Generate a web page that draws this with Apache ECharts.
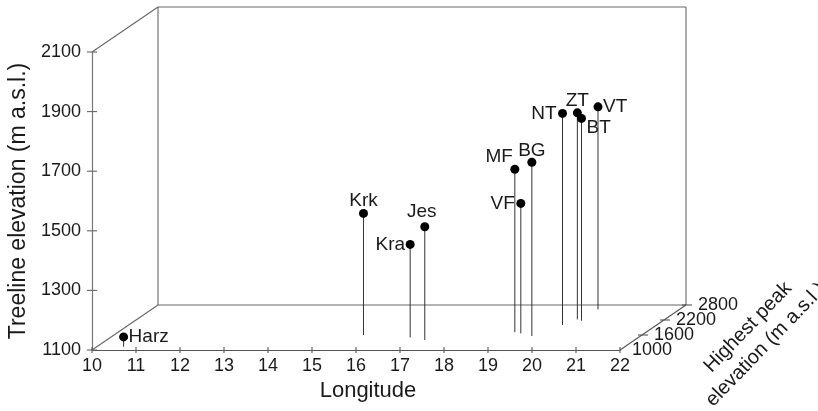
<!DOCTYPE html>
<html>
<head>
<meta charset="utf-8">
<script src="https://cdn.jsdelivr.net/npm/echarts@6/dist/echarts.min.js"></script>
<style>
html,body{margin:0;padding:0;background:#fff;}
#chart{width:818px;height:411px;}
</style>
</head>
<body>
<div id="chart"></div>
<script>
// ---- data ----
const names = ['Harz', 'Krk', 'Kra', 'Jes', 'MF', 'VF', 'BG', 'NT', 'ZT', 'BT', 'VT'];
const longitude = [10.61, 15.67, 16.81, 17.23, 19.02, 19.19, 19.53, 19.86, 20.01, 20.15, 20.15];
const treelineElevation = [1133, 1508, 1412, 1480, 1647, 1536, 1683, 1810, 1793, 1779, 1780];
const highestPeakElevation = [1130, 1600, 1505, 1400, 1708, 1667, 1560, 2000, 2225, 2170, 2620];

const lonTicks = [10, 11, 12, 13, 14, 15, 16, 17, 18, 19, 20, 21, 22];
const treelineTicks = [1100, 1300, 1500, 1700, 1900, 2100];
const depthTicks = [1000, 1600, 2200, 2800];

// ---- layout / style ----
const LON_MIN = 10, LON_MAX = 22;
const TL_MIN = 1100, TL_MAX = 2100;
const D_MIN = 1000, D_MAX = 2800;
const DEPTH_DX = 66, DEPTH_DY = -45;   // screen shift for the full depth range (oblique view)
const FONT = '"Liberation Sans", Arial, sans-serif';

const labelPlacement = {
  Harz: {dx: 5, dy: 0, align: 'left', va: 'middle'},
  Krk:  {dx: 0, dy: -3, align: 'center', va: 'bottom'},
  Kra:  {dx: -5, dy: 0, align: 'right', va: 'middle'},
  Jes:  {dx: -3, dy: -5, align: 'center', va: 'bottom'},
  MF:   {dx: -2, dy: -3, align: 'right', va: 'bottom'},
  VF:   {dx: -6, dy: 0, align: 'right', va: 'middle'},
  BG:   {dx: 0, dy: -2, align: 'center', va: 'bottom'},
  NT:   {dx: -6, dy: 0, align: 'right', va: 'middle'},
  ZT:   {dx: 0, dy: -3, align: 'center', va: 'bottom'},
  BT:   {dx: 5, dy: 0, align: 'left', va: 'top'},
  VT:   {dx: 5, dy: 0, align: 'left', va: 'middle'}
};

function depthOffset(d) {
  const f = (d - D_MIN) / (D_MAX - D_MIN);
  return [f * DEPTH_DX, f * DEPTH_DY];
}
function proj(api, lon, tl, d) {
  const c = api.coord([lon, tl]);
  const o = depthOffset(d);
  return [c[0] + o[0], c[1] + o[1]];
}
function seg(a, b, color, w) {
  return {type: 'line', shape: {x1: a[0], y1: a[1], x2: b[0], y2: b[1]},
          style: {stroke: color, lineWidth: w}};
}

const pointData = names.map((n, i) => [longitude[i], treelineElevation[i], highestPeakElevation[i], i]);

const chart = echarts.init(document.getElementById('chart'), null, {renderer: 'canvas'});

chart.setOption({
  animation: false,
  backgroundColor: '#fff',
  grid: {left: 92, top: 52, width: 528, height: 298, containLabel: false, outerBoundsMode: 'none'},
  xAxis: {
    type: 'value', min: LON_MIN, max: LON_MAX, interval: 1,
    axisLine: {lineStyle: {color: '#555', width: 1.2}},
    axisTick: {show: false},
    splitLine: {show: false},
    axisLabel: {fontSize: 18, color: '#1a1a1a', margin: 7, fontFamily: FONT,
                formatter: v => String(v)},
    name: 'Longitude', nameLocation: 'middle', nameGap: 30,
    nameTextStyle: {fontSize: 22, color: '#1a1a1a', fontFamily: FONT, padding: [0, 0, 0, 24]}
  },
  yAxis: {
    type: 'value', min: TL_MIN, max: TL_MAX, interval: 200,
    axisLine: {lineStyle: {color: '#777', width: 1.2}},
    axisTick: {show: false},
    splitLine: {show: false},
    axisLabel: {fontSize: 18, color: '#1a1a1a', margin: 11, fontFamily: FONT,
                formatter: v => String(v)},
    name: 'Treeline elevation (m a.s.l.)', nameLocation: 'middle', nameGap: 58,
    nameTextStyle: {fontSize: 23, color: '#1a1a1a', fontFamily: FONT}
  },
  graphic: [{
    type: 'text', x: 757, y: 336, rotation: 46 * Math.PI / 180, silent: true,
    style: {text: 'Highest peak\nelevation (m a.s.l.)', fontSize: 20, fontFamily: FONT,
            fill: '#1a1a1a', align: 'center', verticalAlign: 'middle', lineHeight: 25}
  }],
  series: [
    {
      type: 'custom', name: 'box', coordinateSystem: 'cartesian2d', clip: false, silent: true,
      data: [[LON_MIN, TL_MIN]],
      renderItem: function (params, api) {
        const ch = [];
        const boxC = '#666';
        ch.push(seg(proj(api, LON_MIN, TL_MIN, D_MIN), proj(api, LON_MIN, TL_MIN, D_MAX), boxC, 1.1));
        ch.push(seg(proj(api, LON_MIN, TL_MAX, D_MIN), proj(api, LON_MIN, TL_MAX, D_MAX), boxC, 1.1));
        ch.push(seg(proj(api, LON_MIN, TL_MIN, D_MAX), proj(api, LON_MIN, TL_MAX, D_MAX), boxC, 1.1));
        ch.push(seg(proj(api, LON_MIN, TL_MAX, D_MAX), proj(api, LON_MAX, TL_MAX, D_MAX), boxC, 1.1));
        ch.push(seg(proj(api, LON_MAX, TL_MAX, D_MAX), proj(api, LON_MAX, TL_MIN, D_MAX), boxC, 1.1));
        ch.push(seg(proj(api, LON_MIN, TL_MIN, D_MAX), proj(api, LON_MAX, TL_MIN, D_MAX), boxC, 1.1));
        ch.push(seg(proj(api, LON_MAX, TL_MIN, D_MIN), proj(api, LON_MAX, TL_MIN, D_MAX), '#555', 1.1));
        // longitude ticks (crossing the axis)
        lonTicks.forEach(v => {
          const p = api.coord([v, TL_MIN]);
          ch.push(seg([p[0], p[1] - 3], [p[0], p[1] + 3], '#555', 1.1));
        });
        // treeline ticks
        treelineTicks.forEach(v => {
          const p = api.coord([LON_MIN, v]);
          ch.push(seg([p[0] - 5, p[1]], [p[0] + 5, p[1]], '#666', 1.1));
        });
        // depth axis ticks and labels
        depthTicks.forEach((d, k) => {
          const p = proj(api, LON_MAX, TL_MIN, d);
          if (k > 0) ch.push(seg([p[0] - 4, p[1]], [p[0] + 6, p[1]], '#555', 1.1));
          ch.push({type: 'text', x: p[0] + 12, y: p[1], silent: true,
                   style: {text: String(d), fontSize: 18, fontFamily: FONT, fill: '#1a1a1a',
                           align: 'left', verticalAlign: 'middle'}});
        });
        return {type: 'group', children: ch};
      }
    },
    {
      type: 'custom', name: 'sites', coordinateSystem: 'cartesian2d', clip: false, silent: true,
      data: pointData,
      renderItem: function (params, api) {
        const lon = api.value(0), tl = api.value(1), d = api.value(2), i = api.value(3);
        const p = proj(api, lon, tl, d);
        const f = proj(api, lon, TL_MIN, d);
        const nm = names[i];
        const lp = labelPlacement[nm];
        return {
          type: 'group',
          children: [
            seg(p, f, '#333', 1),
            {type: 'circle', shape: {cx: p[0], cy: p[1], r: 4.5}, style: {fill: '#000'}},
            {type: 'text', x: p[0] + lp.dx, y: p[1] + lp.dy,
             style: {text: nm, fontSize: 19, fontFamily: FONT, fill: '#1a1a1a',
                     align: lp.align, verticalAlign: lp.va}}
          ]
        };
      }
    }
  ]
});
</script>
</body>
</html>
